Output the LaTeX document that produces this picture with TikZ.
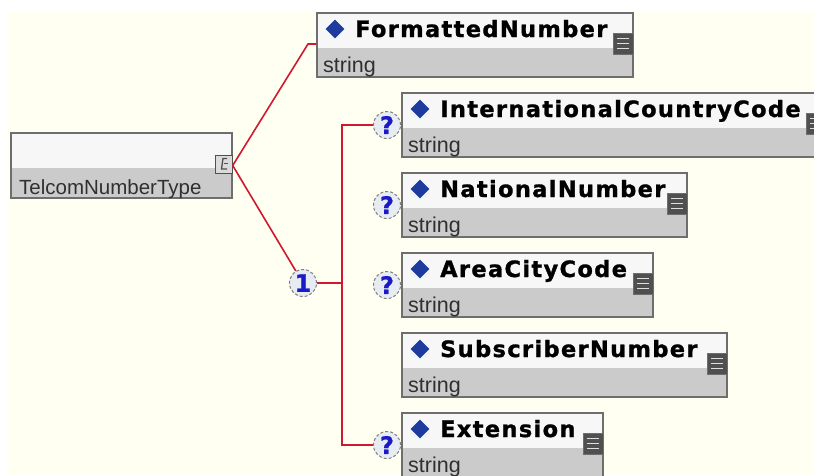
\documentclass[tikz,border=0pt]{standalone}
\usepackage{fontspec}
\setmainfont{Liberation Sans}
\newfontfamily\titlef[LetterSpace=6,FakeBold=1.2]{DejaVu Sans}
\newfontfamily\markf[FakeBold=1]{DejaVu Sans}
\usetikzlibrary{shapes.geometric,fit}
\definecolor{cream}{HTML}{FFFFF2}
\definecolor{boxwhite}{HTML}{F7F7F7}
\definecolor{boxgrey}{HTML}{CBCBCB}
\definecolor{frame}{HTML}{6E6E6E}
\definecolor{iconfill}{HTML}{505050}
\definecolor{diamondblue}{HTML}{1E3C9E}
\definecolor{redline}{HTML}{D01830}
\definecolor{qblue}{HTML}{1A1AC8}
\definecolor{qfill}{HTML}{E6ECF2}
\definecolor{txt}{HTML}{303030}
\tikzset{
  boxframe/.style={draw=frame, line width=1.4pt, inner sep=0pt},
  titletext/.style={anchor=base west, font=\titlef\bfseries\fontsize{22.5}{26}\selectfont, text=black, inner sep=0pt},
  strtext/.style={anchor=base west, font=\fontsize{21.5}{24}\selectfont, text=txt, inner sep=0pt},
  dmark/.style={diamond, fill=diamondblue, minimum width=19pt, minimum height=19pt, inner sep=0pt},
  docicon/.style={rectangle, fill=iconfill, draw=frame, line width=0.6pt, minimum width=20pt, minimum height=21pt, inner sep=0pt,
    path picture={\foreach \k in {-5,0,5} \draw[white!75!gray, line width=1.8pt] ([xshift=4pt,yshift=\k pt]path picture bounding box.west) -- ([xshift=-4pt,yshift=\k pt]path picture bounding box.east);}},
  qcircle/.style={circle, draw=gray, densely dashed, line width=1pt, fill=qfill, minimum size=27pt, inner sep=0pt, text=qblue, font=\markf\bfseries\fontsize{24}{24}\selectfont},
  conn/.style={draw=redline, line width=1.6pt},
}
\newcommand{\elem}[5]{%
  \fill[boxwhite] (#2,#3) rectangle (#4,#3+35);
  \fill[boxgrey] (#2,#3+35) rectangle (#4,#3+64);
  \node[boxframe, fit={(#2,#3) (#4,#3+64)}] (#1) {};
  \node[dmark] (#1-d) at (#2+18,#3+16) {};
  \node[titletext] (#1-t) at (#2+38,#3+24) {#5};
  \node[strtext] (#1-s) at (#2+6,#3+59) {string};
  \node[docicon] (#1-i) at (#4-10,#3+30.5) {};
}
\begin{document}
\begin{tikzpicture}[x=1pt,y=-1pt]
\useasboundingbox (0,0) rectangle (814,475);
\clip (0,0) rectangle (814,475);
\fill[white] (0,0) rectangle (814,475);
\fill[cream] (8,12) rectangle (814,475);
% root type box
\fill[boxwhite] (11,133) rectangle (232,168);
\fill[boxgrey] (11,168) rectangle (232,198);
\node[boxframe, fit={(11,133) (232,198)}] (telcom) {};
\node[anchor=base west, inner sep=0pt, text=txt, font=\fontsize{20.5}{24}\selectfont] (telcom-t) at (19,194) {TelcomNumberType};
\node[rectangle, draw=iconfill, line width=1pt, fill=boxgrey!70!white, minimum width=17pt, minimum height=18pt, inner sep=0pt] (telcom-i) at (223.5,164) {};
\draw[iconfill, line width=1.3pt] (227,158.5) -- (223,158.5) -- (221.5,169) -- (227,169);
\draw[iconfill, line width=1.1pt] (224,163.5) -- (227.5,163.5);
% elements
\elem{fmt}{317}{13}{633}{FormattedNumber}
\elem{icc}{402}{93}{826}{InternationalCountryCode}
\elem{nat}{402}{173}{687}{NationalNumber}
\elem{area}{402}{253}{653}{AreaCityCode}
\elem{sub}{402}{333}{727}{SubscriberNumber}
\elem{ext}{402}{413}{603}{Extension}
% occurrence markers
\node[qcircle] (one) at (303,283) {1};
\node[qcircle] (q1) at (387,125) {?};
\node[qcircle] (q2) at (387,205) {?};
\node[qcircle] (q3) at (387,285) {?};
\node[qcircle] (q4) at (387,445) {?};
% connectors
\coordinate (bend1) at (308,44);
\coordinate (busTop) at (342,125);
\coordinate (busBot) at (342,445);
\draw[conn] (telcom.east) -- (bend1) -- (bend1 -| fmt.west);
\draw[conn] (telcom.east) -- (one);
\draw[conn] (one.east) -- (one.east -| busTop);
\draw[conn] (q1.west) -- (busTop) -- (busBot) -- (q4.west);
\end{tikzpicture}
\end{document}
